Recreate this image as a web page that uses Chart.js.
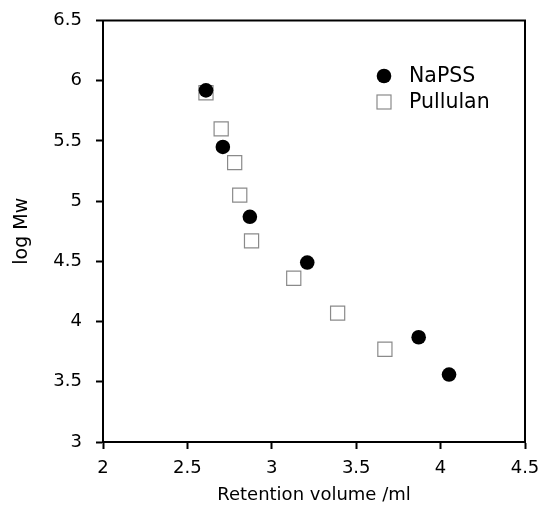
<!DOCTYPE html>
<html>
<head>
<meta charset="utf-8">
<script src="https://cdn.jsdelivr.net/npm/chart.js@4/dist/chart.umd.min.js"></script>
<style>
  html, body { margin: 0; padding: 0; background: #fff; }
  #wrap { width: 541px; height: 506px; }
</style>
</head>
<body>
<div id="wrap"><canvas id="gpcChart" width="541" height="506"></canvas></div>
<script>
// retention volume (ml) vs log Mw
const napssVolume = [2.61, 2.71, 2.87, 3.21, 3.87, 4.05];
const napssLogMw  = [5.92, 5.45, 4.87, 4.49, 3.87, 3.56];

const pullulanVolume = [2.61, 2.70, 2.78, 2.81, 2.88, 3.13, 3.39, 3.67];
const pullulanLogMw  = [5.90, 5.60, 5.32, 5.05, 4.67, 4.36, 4.07, 3.77];

const xTicks = [2, 2.5, 3, 3.5, 4, 4.5];
const yTicks = [3, 3.5, 4, 4.5, 5, 5.5, 6, 6.5];

const seriesNames = ['NaPSS', 'Pullulan'];

const family = '"DejaVu Sans", sans-serif';
const font = { family: family, size: 18 };

function toPoints(xs, ys) {
    return xs.map((x, i) => ({ x: x, y: ys[i] }));
}

// frame around the plot + the legend in the upper right
const framePlugin = {
    id: 'frame',
    afterDraw(chart) {
        const { ctx, chartArea: a } = chart;
        ctx.save();
        ctx.strokeStyle = '#000';
        ctx.lineWidth = 2;
        ctx.strokeRect(a.left, a.top, a.right - a.left, a.bottom - a.top);

        // legend
        const lx = 384, ly = [76, 102];
        ctx.font = '20.5px ' + family;
        ctx.textBaseline = 'middle';
        ctx.fillStyle = '#000';
        ctx.beginPath();
        ctx.arc(lx, ly[0], 7.3, 0, Math.PI * 2);
        ctx.fill();
        ctx.fillText(seriesNames[0], 409, ly[0] + 1);

        ctx.strokeStyle = '#8a8a8a';
        ctx.lineWidth = 1.2;
        ctx.strokeRect(lx - 7, ly[1] - 7, 14, 14);
        ctx.fillStyle = '#000';
        ctx.fillText(seriesNames[1], 409, ly[1] + 1);
        ctx.restore();
    }
};

const data = {
    datasets: [
        {
            label: seriesNames[0],
            data: toPoints(napssVolume, napssLogMw),
            pointStyle: 'circle',
            pointRadius: 7.3,
            pointHoverRadius: 7.3,
            backgroundColor: '#000',
            borderColor: '#000',
            borderWidth: 0,
        },
        {
            label: seriesNames[1],
            data: toPoints(pullulanVolume, pullulanLogMw),
            pointStyle: 'rect',
            pointRadius: 10,
            pointHoverRadius: 10,
            backgroundColor: '#fff',
            borderColor: '#8a8a8a',
            borderWidth: 1.2,
        },
    ],
};

// keep the tick labels from pushing the plot area in
function noOverflow(s) {
    s.paddingLeft = 0; s.paddingRight = 0; s.paddingTop = 0; s.paddingBottom = 0;
}

const config = {
    type: 'scatter',
    data: data,
    plugins: [framePlugin],
    options: {
        responsive: false,
        animation: false,
        layout: { padding: { top: 20.5, right: 16, left: 0, bottom: 0 } },
        plugins: {
            legend: false,
            tooltip: { enabled: false },
        },
        scales: {
            x: {
                type: 'linear',
                min: 2,
                max: 4.5,
                afterBuildTicks: (s) => { s.ticks = xTicks.map(v => ({ value: v })); },
                afterFit: (s) => { s.height = 64; noOverflow(s); },
                grid: { drawOnChartArea: false, tickLength: 7, tickWidth: 2, color: '#000' },
                border: { display: true, color: '#000', width: 2 },
                ticks: { color: '#000', font: font, padding: 9, maxRotation: 0, callback: (v) => String(v) },
                title: { display: true, text: 'Retention volume /ml', color: '#000', font: font, padding: { top: 0, bottom: 0 } },
            },
            y: {
                type: 'linear',
                min: 3,
                max: 6.5,
                afterBuildTicks: (s) => { s.ticks = yTicks.map(v => ({ value: v })); },
                afterFit: (s) => { s.width = 103; noOverflow(s); },
                grid: { drawOnChartArea: false, tickLength: 7, tickWidth: 2, color: '#000' },
                border: { display: true, color: '#000', width: 2 },
                ticks: { color: '#000', font: font, padding: 14, callback: (v) => String(v) },
                title: { display: true, text: 'log Mw', color: '#000', font: { family: family, size: 19 }, padding: { top: 11, bottom: 0 } },
            },
        },
    },
};

const gpcChart = new Chart(document.getElementById('gpcChart').getContext('2d'), config);
</script>
</body>
</html>
